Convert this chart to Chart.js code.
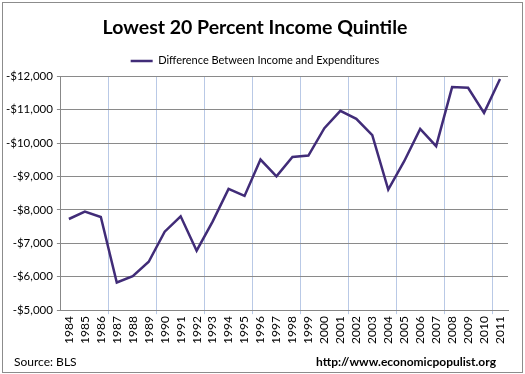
<!DOCTYPE html>
<html>
<head>
<meta charset="utf-8">
<script src="https://cdn.jsdelivr.net/npm/chart.js@4.4.1/dist/chart.umd.min.js"></script>
<style>
  html, body { margin: 0; padding: 0; background: #fff; }
  #wrap { position: relative; width: 525px; height: 374px; }
</style>
</head>
<body>
<div id="wrap"><canvas id="chart" width="525" height="374"></canvas></div>
<script>
// values
const years = ['1984', '1985', '1986', '1987', '1988', '1989', '1990', '1991', '1992', '1993',
  '1994', '1995', '1996', '1997', '1998', '1999', '2000', '2001', '2002', '2003',
  '2004', '2005', '2006', '2007', '2008', '2009', '2010', '2011'];
const difference = [-7730, -7950, -7790, -5830, -6020, -6450, -7350, -7810, -6780, -7650,
  -8630, -8420, -9510, -9010, -9590, -9630, -10450, -10970, -10730, -10240,
  -8610, -9460, -10430, -9910, -11680, -11660, -10910, -11920];
const seriesName = 'Difference Between Income and Expenditures';
const titleText = 'Lowest 20 Percent Income Quintile';
const sourceText = 'Source: BLS';
const siteText = 'http://www.economicpopulist.org';

const fontFamily = 'Lato, "Open Sans", sans-serif';

// border + footer texts
const frame = {
  id: 'frame',
  afterDraw(chart) {
    const c = chart.ctx;
    c.save();
    c.strokeStyle = '#8c8c8c';
    c.lineWidth = 1;
    c.strokeRect(2.5, 2.5, chart.width - 5, chart.height - 4);
    c.fillStyle = '#000';
    c.textBaseline = 'middle';
    c.font = '12px ' + fontFamily;
    c.textAlign = 'left';
    c.fillText(sourceText, 14, 362);
    c.font = 'bold 12px ' + fontFamily;
    c.textAlign = 'right';
    c.fillText(siteText, 496, 362);
    c.restore();
  }
};

function money(v) {
  return '-$' + Math.abs(v).toLocaleString('en-US');
}

new Chart(document.getElementById('chart'), {
  type: 'line',
  data: {
    labels: years,
    datasets: [{
      label: seriesName,
      data: difference,
      borderColor: '#412c78',
      backgroundColor: '#412c78',
      borderWidth: 2.5,
      pointRadius: 0,
      tension: 0
    }]
  },
  options: {
    responsive: false,
    animation: false,
    layout: { padding: { left: 2, right: 17, top: 10, bottom: 28 } },
    plugins: {
      title: {
        display: true,
        text: titleText,
        color: '#000',
        font: { family: fontFamily, size: 19.5, weight: 'bold' },
        padding: { top: 6, bottom: 10 }
      },
      legend: {
        display: true,
        labels: {
          color: '#000',
          font: { family: fontFamily, size: 11 },
          usePointStyle: true,
          pointStyle: 'line',
          pointStyleWidth: 22,
          boxHeight: 8,
          padding: 6
        }
      },
      tooltip: { enabled: false }
    },
    scales: {
      x: {
        offset: true,
        grid: {
          offset: true,
          drawTicks: true,
          tickLength: 4,
          color: ctx => (ctx.index % 3 === 0 && ctx.index > 0 ? '#b9c9e6' : 'rgba(0,0,0,0)')
        },
        border: { color: '#888', width: 1 },
        ticks: {
          autoSkip: false,
          maxRotation: 90,
          minRotation: 90,
          color: '#000',
          font: { family: fontFamily, size: 12 },
          padding: 2
        }
      },
      y: {
        reverse: true,
        min: -12000,
        max: -5000,
        grid: { color: '#8a8a8a', drawTicks: true, tickLength: 4 },
        border: { color: '#888', width: 1 },
        ticks: {
          stepSize: 1000,
          color: '#000',
          font: { family: fontFamily, size: 11.5 },
          padding: 4,
          callback: v => money(v)
        }
      }
    }
  },
  plugins: [frame]
});
</script>
</body>
</html>
